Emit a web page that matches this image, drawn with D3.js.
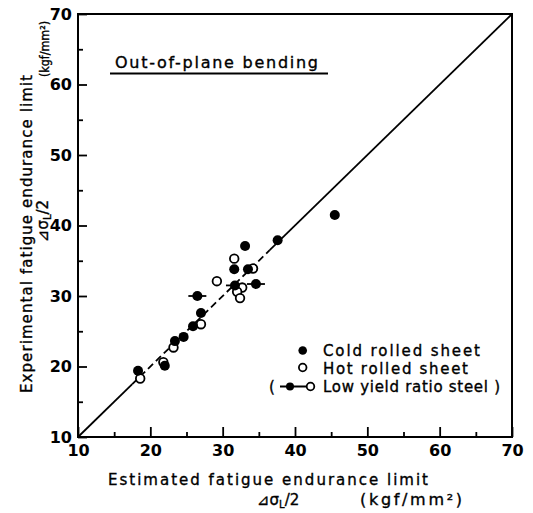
<!DOCTYPE html>
<html>
<head>
<meta charset="utf-8">
<script src="https://d3js.org/d3.v7.min.js"></script>
<style>
	body { margin: 0; background: #fff; }
	text { font-family: "DejaVu Sans", sans-serif; fill: #000; }
	.label { stroke: #000; stroke-width: 0.35; }
	.tick text { font-weight: bold; font-size: 16px; }
	.axis path { display: none; }
	.axis line { stroke: #000; stroke-width: 1.8; }
</style>
</head>
<body>
<div id="chartDiv"></div>
<script>
// estimated (x) vs experimental (y) fatigue endurance limit, kgf/mm2
var coldX = [18.3, 22.0, 23.4, 24.6, 25.9, 27.0, 31.6, 33.1, 33.5, 37.6, 45.5];
var coldY = [19.4, 20.1, 23.6, 24.2, 25.7, 27.6, 33.8, 37.1, 33.8, 37.9, 41.5];

var hotX = [18.6, 21.8, 23.2, 27.0, 29.2, 31.6, 32.7, 32.0, 32.4, 34.2];
var hotY = [18.3, 20.6, 22.7, 26.0, 32.1, 35.3, 31.2, 30.6, 29.7, 33.9];

// low yield ratio steel (drawn with a bar)
var lowYieldX = [26.5, 31.7, 34.6];
var lowYieldY = [30.0, 31.5, 31.7];

var majorTicks = [10, 20, 30, 40, 50, 60, 70];
var minorTicks = [15, 25, 35, 45, 55, 65];

var legendLabels = ["Cold rolled sheet", "Hot rolled sheet", "Low yield ratio steel )"];

;(function() {

	var margin = { top: 14, right: 21, bottom: 76, left: 78 };
	var width = 533;
	var height = 513;

	var dataRange = { min: 10, max: 70 };

	var chart;
	var chartWidth;
	var chartHeight;

	init();

	function init() {
		chartWidth = width - margin.left - margin.right;
		chartHeight = height - margin.top - margin.bottom;

		initializeChart();
		createAxes();
		drawDiagonal();
		drawDots();
		drawLegend();
	}

	function initializeChart() {
		chart = d3.select("#chartDiv").append("svg")
			.attr("width", width)
			.attr("height", height);

		chart.plotArea = chart.append("g")
			.attr("transform", "translate(" + margin.left + "," + margin.top + ")");

		chart.xScale = d3.scaleLinear()
			.domain([dataRange.min, dataRange.max])
			.range([0, chartWidth]);

		chart.yScale = d3.scaleLinear()
			.domain([dataRange.min, dataRange.max])
			.range([chartHeight, 0]);
	}

	function subLabel(x, y, rotate) {
		var t = chart.append("text")
			.attr("class", "label")
			.attr("text-anchor", rotate ? "middle" : "start")
			.attr("transform", "translate(" + x + "," + y + ")" + (rotate ? " rotate(-90)" : ""))
			.style("font-size", "15px");
		t.append("tspan").text("⊿σ");
		t.append("tspan").attr("dy", 3).style("font-size", "10px").text("L");
		t.append("tspan").attr("dy", -3).text("/2");
	}

	function createAxes() {
		var p = chart.plotArea;

		// x axis, ticks point inward
		p.append("g")
			.attr("class", "axis")
			.attr("transform", "translate(0," + chartHeight + ")")
			.call(d3.axisBottom(chart.xScale).tickValues(majorTicks).tickSize(-10).tickSizeOuter(0).tickPadding(8));

		p.append("g")
			.attr("class", "axis")
			.attr("transform", "translate(0," + chartHeight + ")")
			.call(d3.axisBottom(chart.xScale).tickValues(minorTicks).tickSize(-5).tickSizeOuter(0).tickFormat(""));

		// y axis
		p.append("g")
			.attr("class", "axis")
			.call(d3.axisLeft(chart.yScale).tickValues(majorTicks).tickSize(-9).tickSizeOuter(0).tickPadding(6));

		p.append("g")
			.attr("class", "axis")
			.call(d3.axisLeft(chart.yScale).tickValues(minorTicks).tickSize(-5).tickSizeOuter(0).tickFormat(""));

		// frame
		p.append("rect")
			.attr("x", 0)
			.attr("y", 0)
			.attr("width", chartWidth)
			.attr("height", chartHeight)
			.attr("fill", "none")
			.attr("stroke", "#000")
			.attr("stroke-width", 2);

		// x axis header
		chart.append("text")
			.attr("class", "label")
			.attr("x", 108)
			.attr("y", 485)
			.attr("textLength", 320)
			.attr("lengthAdjust", "spacing")
			.style("font-size", "15px")
			.text("Estimated fatigue endurance limit");

		subLabel(257, 505, false);

		chart.append("text")
			.attr("class", "label")
			.attr("x", 360)
			.attr("y", 505)
			.attr("textLength", 102)
			.attr("lengthAdjust", "spacing")
			.style("font-size", "16px")
			.text("(kgf/mm²)");

		// y axis header
		chart.append("text")
			.attr("class", "label")
			.attr("text-anchor", "middle")
			.attr("textLength", 318)
			.attr("lengthAdjust", "spacing")
			.attr("transform", "translate(32,234) rotate(-90)")
			.style("font-size", "15px")
			.text("Experimental fatigue endurance limit");

		subLabel(48, 221, true);

		chart.append("text")
			.attr("class", "label")
			.attr("text-anchor", "middle")
			.attr("textLength", 56)
			.attr("lengthAdjust", "spacingAndGlyphs")
			.attr("transform", "translate(49,49) rotate(-90)")
			.style("font-size", "13px")
			.text("(kgf/mm²)");

		// panel title
		chart.append("text")
			.attr("class", "label")
			.attr("x", 115)
			.attr("y", 68)
			.attr("textLength", 203)
			.attr("lengthAdjust", "spacing")
			.style("font-size", "16px")
			.text("Out-of-plane bending");

		chart.append("line")
			.attr("x1", 110)
			.attr("x2", 328)
			.attr("y1", 73.5)
			.attr("y2", 73.5)
			.attr("stroke", "#000")
			.attr("stroke-width", 2);
	}

	function drawDiagonal() {
		// 1:1 line, broken where it runs through the cluster
		var pieces = [[10, 17.5, "none"], [17.5, 36.5, "7,4"], [36.5, 70, "none"]];
		chart.plotArea.selectAll(".diag")
			.data(pieces)
			.enter().append("line")
				.attr("class", "diag")
				.attr("x1", function(d) { return chart.xScale(d[0]); })
				.attr("y1", function(d) { return chart.yScale(d[0]); })
				.attr("x2", function(d) { return chart.xScale(d[1]); })
				.attr("y2", function(d) { return chart.yScale(d[1]); })
				.attr("stroke", "#000")
				.attr("stroke-width", 1.8)
				.attr("stroke-dasharray", function(d) { return d[2]; });
	}

	function drawDots() {
		var p = chart.plotArea;

		p.selectAll(".bar")
			.data(lowYieldX)
			.enter().append("line")
				.attr("class", "bar")
				.attr("x1", function(d) { return chart.xScale(d) - 9; })
				.attr("x2", function(d) { return chart.xScale(d) + 9; })
				.attr("y1", function(d, i) { return chart.yScale(lowYieldY[i]); })
				.attr("y2", function(d, i) { return chart.yScale(lowYieldY[i]); })
				.attr("stroke", "#000")
				.attr("stroke-width", 1.8);

		p.selectAll(".hot")
			.data(hotX)
			.enter().append("circle")
				.attr("class", "hot")
				.attr("cx", function(d) { return chart.xScale(d); })
				.attr("cy", function(d, i) { return chart.yScale(hotY[i]); })
				.attr("r", 4.3)
				.attr("fill", "#fff")
				.attr("stroke", "#000")
				.attr("stroke-width", 1.8);

		var allColdY = coldY.concat(lowYieldY);
		p.selectAll(".cold")
			.data(coldX.concat(lowYieldX))
			.enter().append("circle")
				.attr("class", "cold")
				.attr("cx", function(d) { return chart.xScale(d); })
				.attr("cy", function(d, i) { return chart.yScale(allColdY[i]); })
				.attr("r", 5)
				.attr("fill", "#000");
	}

	function drawLegend() {
		var rows = [356, 373.5, 392];

		chart.append("circle").attr("cx", 302.7).attr("cy", 350.5).attr("r", 4.3).attr("fill", "#000");
		chart.append("circle").attr("cx", 302.7).attr("cy", 367.5).attr("r", 3.8)
			.attr("fill", "#fff").attr("stroke", "#000").attr("stroke-width", 1.8);

		chart.append("text").attr("class", "label").attr("x", 269).attr("y", 392).style("font-size", "15px").text("(");
		chart.append("line").attr("x1", 280).attr("x2", 314).attr("y1", 386.5).attr("y2", 386.5)
			.attr("stroke", "#000").attr("stroke-width", 1.8);
		chart.append("circle").attr("cx", 290).attr("cy", 386.5).attr("r", 4).attr("fill", "#000");
		chart.append("circle").attr("cx", 310.5).attr("cy", 386.5).attr("r", 3.8)
			.attr("fill", "#fff").attr("stroke", "#000").attr("stroke-width", 1.8);

		var lengths = [157, 145, 177];
		chart.selectAll(".legendText")
			.data(legendLabels)
			.enter().append("text")
				.attr("class", "legendText label")
				.attr("x", 323)
				.attr("y", function(d, i) { return rows[i]; })
				.attr("textLength", function(d, i) { return lengths[i]; })
				.attr("lengthAdjust", "spacing")
				.style("font-size", "15px")
				.text(function(d) { return d; });
	}

})();
</script>
</body>
</html>
